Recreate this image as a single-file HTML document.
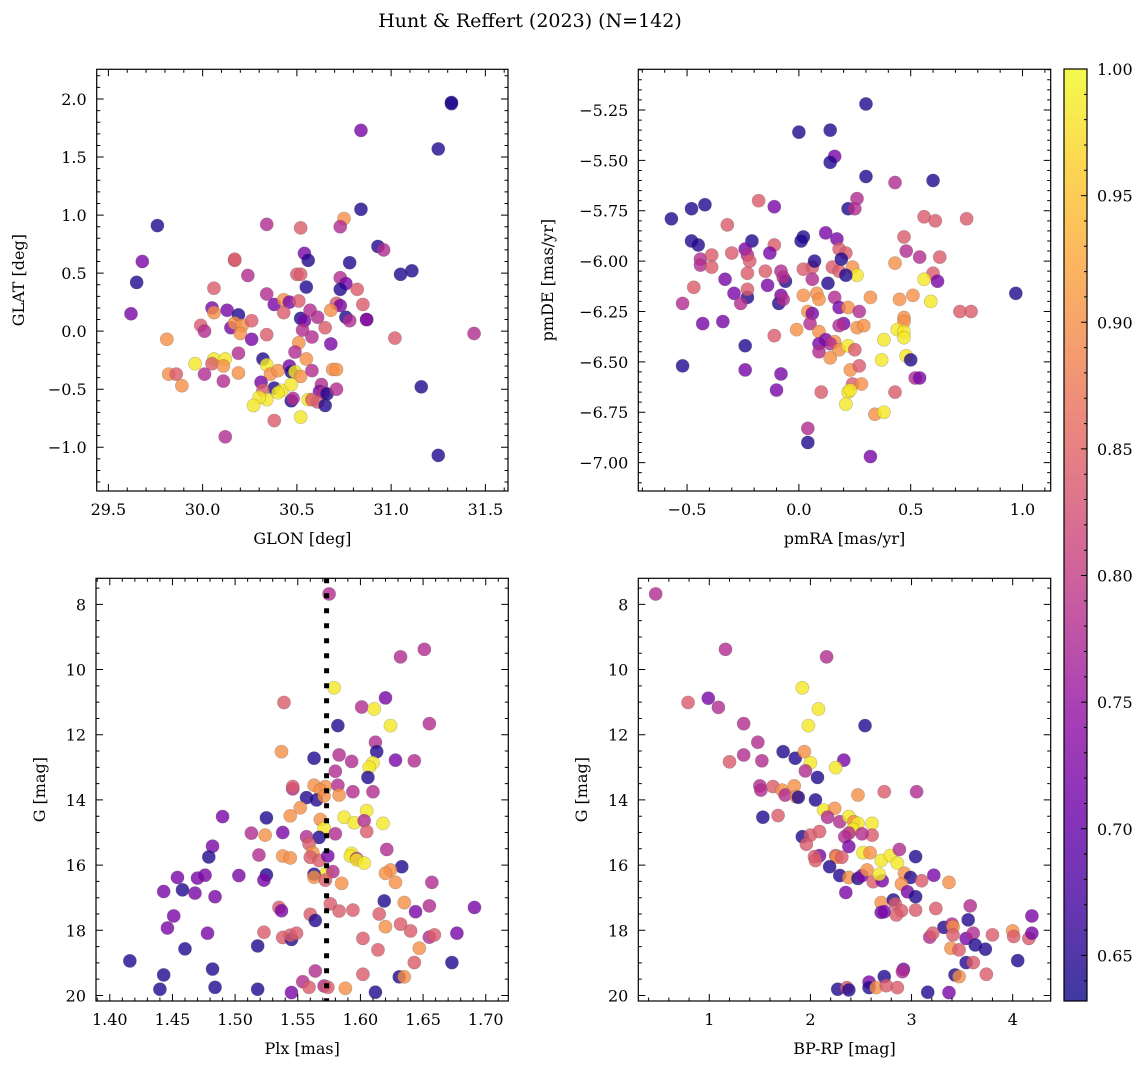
<!DOCTYPE html>
<html><head><meta charset="utf-8">
<style>
html,body{margin:0;padding:0;background:#fff;}
svg{display:block;font-family:"DejaVu Serif","Liberation Serif",serif;}
</style></head>
<body>
<svg id="fig" width="1148" height="1068" viewBox="0 0 1148 1068" xmlns="http://www.w3.org/2000/svg">
<rect x="0" y="0" width="1148" height="1068" fill="#fff"/>
<text x="530" y="27" font-size="19" text-anchor="middle">Hunt &amp; Reffert (2023) (N=142)</text>
</svg>
<script>
const B=0.645,P=0.72,M=0.78,K=0.84,O=0.90,Y=0.985;
// Panel 1: GLON vs GLAT
const glon=[31.32,31.32,30.84,31.25,30.84,29.76,30.34,30.52,30.75,30.73,29.68,29.65,29.62,30.93,30.96,30.78,31.05,31.11,30.54,30.56,30.17,30.17,30.24,30.50,30.52,30.55,30.73,30.76,30.73,30.82,30.85,30.71,30.73,30.76,30.78,30.87,30.87,31.02,31.44,31.16,31.25,30.12,30.38,30.52,30.06,30.05,30.06,30.13,30.19,30.15,30.17,30.21,30.20,30.26,30.26,29.99,30.01,29.81,30.19,30.34,30.38,30.43,30.46,30.51,30.43,30.34,30.52,30.54,30.57,30.61,30.53,30.58,30.65,30.68,30.68,30.51,30.49,30.55,30.32,30.34,29.96,30.06,30.12,30.05,30.11,29.82,29.86,29.89,30.01,30.11,30.19,30.36,30.40,30.46,30.47,30.49,30.52,30.58,30.69,30.71,30.31,30.38,30.32,30.42,30.47,30.40,30.34,30.30,30.27,30.47,30.48,30.56,30.63,30.62,30.64,30.61,30.65,30.66,30.71,30.58];
const glat=[1.96,1.97,1.73,1.57,1.05,0.91,0.92,0.89,0.97,0.90,0.60,0.42,0.15,0.73,0.70,0.59,0.49,0.52,0.67,0.61,0.61,0.62,0.48,0.49,0.49,0.38,0.46,0.41,0.36,0.36,0.23,0.24,0.22,0.12,0.09,0.10,0.10,-0.06,-0.02,-0.48,-1.07,-0.91,-0.77,-0.74,0.37,0.20,0.16,0.18,0.14,0.03,0.07,0.05,-0.02,0.09,-0.07,0.05,0.00,-0.07,-0.19,0.32,0.23,0.27,0.25,0.26,0.16,-0.03,0.11,0.09,0.18,0.12,0.01,-0.05,0.03,0.18,-0.11,-0.10,-0.18,-0.24,-0.24,-0.29,-0.28,-0.24,-0.24,-0.28,-0.30,-0.37,-0.37,-0.47,-0.37,-0.43,-0.36,-0.37,-0.34,-0.30,-0.35,-0.35,-0.39,-0.34,-0.33,-0.33,-0.44,-0.49,-0.51,-0.51,-0.46,-0.53,-0.59,-0.57,-0.64,-0.60,-0.58,-0.59,-0.46,-0.52,-0.53,-0.61,-0.64,-0.54,-0.50,-0.59];
const c1=[B,B,P,B,B,B,M,K,O,M,P,B,P,B,M,B,B,B,P,B,K,K,M,K,K,B,M,P,B,K,K,K,P,B,M,M,P,K,M,B,B,M,K,Y,K,P,O,P,B,P,O,O,O,K,P,K,M,O,M,M,P,O,P,K,K,K,B,P,M,M,M,M,K,O,P,O,M,O,B,Y,Y,Y,Y,K,O,O,K,O,M,M,O,O,O,P,B,Y,O,M,O,O,P,B,K,Y,Y,Y,Y,Y,Y,B,M,Y,M,P,M,K,B,B,M,K];
// Panel 2: pmRA vs pmDE
const pmra=[0.30,0.00,0.14,0.16,0.14,0.30,0.43,0.60,0.26,0.22,0.25,0.56,0.61,0.75,-0.57,-0.48,-0.42,-0.18,-0.11,-0.32,-0.48,-0.45,-0.21,-0.24,-0.23,-0.22,-0.11,-0.13,0.02,0.01,0.12,0.17,0.18,0.21,-0.44,-0.44,-0.39,-0.30,-0.39,-0.33,-0.23,-0.15,-0.08,-0.06,-0.07,-0.14,-0.29,-0.23,-0.23,-0.26,-0.47,-0.52,-0.43,-0.34,-0.08,-0.09,-0.07,-0.11,-0.24,-0.52,-0.24,-0.08,-0.10,0.02,0.06,0.07,0.06,0.13,0.15,0.18,0.19,0.24,0.26,0.21,0.02,0.08,0.09,0.16,0.04,0.06,0.05,-0.01,0.09,0.18,0.22,0.27,0.20,0.18,0.26,0.29,0.32,0.43,0.47,0.48,0.54,0.63,0.60,0.62,0.56,0.59,0.51,0.45,0.72,0.77,0.97,0.47,0.47,0.44,0.47,0.47,0.38,0.48,0.50,0.52,0.54,0.43,0.37,0.12,0.16,0.14,0.09,0.09,0.14,0.18,0.22,0.25,0.23,0.27,0.24,0.28,0.22,0.23,0.21,0.34,0.38,0.10,0.04,0.04,0.32];
const pmde=[-5.22,-5.36,-5.35,-5.48,-5.51,-5.58,-5.61,-5.60,-5.69,-5.74,-5.74,-5.78,-5.80,-5.79,-5.79,-5.74,-5.72,-5.70,-5.73,-5.82,-5.90,-5.92,-5.90,-5.94,-5.97,-6.00,-5.92,-5.96,-5.88,-5.90,-5.86,-5.89,-5.94,-5.96,-5.99,-6.02,-5.97,-5.96,-6.03,-6.09,-6.06,-6.05,-6.05,-6.10,-6.08,-6.12,-6.16,-6.18,-6.14,-6.21,-6.13,-6.21,-6.31,-6.30,-6.17,-6.21,-6.19,-6.37,-6.42,-6.52,-6.54,-6.56,-6.64,-6.04,-6.03,-6.00,-6.09,-6.11,-6.03,-6.05,-5.99,-6.03,-6.07,-6.07,-6.17,-6.16,-6.19,-6.18,-6.25,-6.26,-6.31,-6.34,-6.35,-6.23,-6.23,-6.25,-6.31,-6.32,-6.33,-6.32,-6.18,-6.01,-5.88,-5.95,-5.98,-5.98,-6.06,-6.10,-6.09,-6.20,-6.17,-6.19,-6.25,-6.25,-6.16,-6.28,-6.30,-6.34,-6.35,-6.38,-6.39,-6.47,-6.49,-6.58,-6.58,-6.65,-6.49,-6.39,-6.40,-6.41,-6.41,-6.45,-6.48,-6.44,-6.42,-6.44,-6.54,-6.52,-6.61,-6.61,-6.65,-6.64,-6.71,-6.76,-6.75,-6.65,-6.83,-6.90,-6.97];
const c2=[B,B,B,P,B,B,M,B,M,B,M,K,K,K,B,B,B,K,P,K,B,B,B,P,M,K,K,P,B,B,P,P,K,K,M,M,K,K,K,P,K,K,M,B,M,P,P,B,K,M,K,M,P,P,P,B,M,K,B,B,P,P,P,K,K,B,M,B,K,K,B,O,Y,B,O,O,O,M,O,P,M,O,O,P,O,M,P,M,O,O,O,O,K,M,M,K,K,P,Y,Y,O,O,K,K,B,O,O,Y,Y,Y,Y,Y,B,M,P,K,Y,P,O,M,P,M,O,O,Y,K,O,K,K,O,Y,Y,Y,O,Y,K,M,B,P];
// Panel 3: Plx vs G
const plx=[1.575,1.651,1.632,1.579,1.539,1.620,1.601,1.611,1.624,1.655,1.582,1.537,1.612,1.613,1.563,1.583,1.593,1.628,1.643,1.610,1.607,1.580,1.606,1.546,1.546,1.563,1.572,1.568,1.582,1.594,1.610,1.583,1.557,1.565,1.571,1.552,1.544,1.525,1.490,1.587,1.595,1.605,1.603,1.605,1.618,1.568,1.571,1.580,1.567,1.557,1.538,1.524,1.513,1.482,1.479,1.519,1.538,1.544,1.559,1.562,1.560,1.567,1.574,1.593,1.592,1.597,1.597,1.603,1.621,1.633,1.624,1.620,1.628,1.657,1.573,1.578,1.563,1.563,1.572,1.585,1.503,1.476,1.470,1.454,1.443,1.458,1.468,1.484,1.525,1.523,1.619,1.635,1.576,1.583,1.594,1.615,1.644,1.655,1.691,1.535,1.537,1.560,1.564,1.451,1.446,1.478,1.523,1.538,1.545,1.544,1.549,1.620,1.632,1.640,1.655,1.659,1.677,1.602,1.647,1.614,1.518,1.460,1.416,1.643,1.673,1.482,1.443,1.564,1.602,1.631,1.635,1.554,1.559,1.571,1.574,1.588,1.440,1.484,1.518,1.545,1.612];
const gmag3=[7.68,9.38,9.61,10.56,11.01,10.87,11.15,11.21,11.72,11.66,11.72,12.52,12.23,12.52,12.72,12.62,12.82,12.78,12.80,12.86,13.00,13.12,13.31,13.66,13.59,13.55,13.59,13.70,13.55,13.75,13.75,13.85,13.93,14.00,13.88,14.24,14.49,14.55,14.51,14.53,14.70,14.33,14.64,14.97,14.72,14.60,14.87,15.04,15.15,15.13,15.00,15.08,15.02,15.42,15.75,15.69,15.72,15.78,15.35,15.62,15.76,15.86,15.72,15.64,15.72,15.80,15.84,15.94,15.52,16.05,16.15,16.25,16.53,16.53,16.23,16.20,16.28,16.37,16.46,16.56,16.32,16.31,16.40,16.38,16.81,16.76,16.86,16.97,16.30,16.46,17.10,17.15,17.19,17.41,17.38,17.50,17.43,17.25,17.30,17.30,17.40,17.51,17.70,17.56,17.93,18.09,18.06,18.22,18.28,18.15,18.09,17.89,17.81,18.02,18.21,18.14,18.09,18.25,18.55,18.60,18.48,18.57,18.94,18.99,18.99,19.19,19.37,19.25,19.35,19.43,19.43,19.58,19.75,19.71,19.75,19.78,19.81,19.75,19.81,19.91,19.90];
const c3=[M,M,M,Y,K,P,M,Y,Y,M,B,O,M,B,B,M,M,P,M,Y,Y,M,B,M,K,O,O,O,M,M,M,O,B,B,O,O,O,B,P,Y,Y,Y,M,K,Y,O,Y,M,B,M,P,O,M,P,B,M,O,O,K,O,K,K,P,Y,Y,M,Y,Y,M,B,O,O,O,M,Y,M,B,O,K,O,P,P,P,P,P,B,P,P,B,P,B,O,K,K,K,K,P,M,P,K,P,K,B,P,P,P,K,K,B,K,K,O,K,K,M,K,P,K,O,K,B,B,B,K,B,B,B,M,K,B,O,M,K,M,K,O,B,B,B,P,B];
const refPlx=1.573;
// Panel 4: BP-RP vs G
const bprp=[0.47,1.16,2.16,1.92,0.79,0.99,1.09,2.08,1.98,2.54,1.34,1.48,1.34,1.20,1.52,1.73,1.85,1.94,2.00,1.95,2.07,2.33,2.25,1.50,1.51,1.63,1.72,1.75,1.84,1.86,1.88,2.05,2.47,2.73,3.05,1.53,1.68,2.13,2.24,2.17,2.29,2.38,2.43,2.47,2.42,2.61,2.61,2.51,2.34,2.38,1.92,2.00,2.09,1.96,2.38,2.09,2.04,2.05,2.25,2.26,2.31,2.19,2.29,2.38,2.47,2.51,2.52,2.59,2.56,2.62,2.71,2.68,2.70,2.79,2.86,2.88,2.93,2.99,2.90,2.96,3.04,3.04,3.10,3.22,3.37,2.35,2.70,2.82,2.84,2.90,2.85,2.70,2.73,3.04,3.24,3.58,3.56,3.32,3.40,3.41,3.41,3.18,3.21,3.54,3.61,3.63,3.73,3.80,4.00,4.01,4.16,4.19,4.19,3.39,3.47,3.54,3.61,4.05,3.74,3.43,3.47,2.92,2.91,2.73,2.58,2.58,2.65,2.75,2.86,2.27,2.36,2.38,3.16,3.37];
const gmag4=[7.68,9.38,9.61,10.56,11.01,10.88,11.16,11.21,11.72,11.72,11.66,12.23,12.62,12.83,12.80,12.52,12.72,12.52,12.86,13.11,13.31,12.78,13.01,13.57,13.70,13.59,13.70,13.85,13.57,13.90,13.92,14.00,13.85,13.75,13.75,14.53,14.48,14.31,14.26,14.53,14.67,14.51,14.67,14.72,14.90,14.72,15.08,15.04,15.13,15.02,15.13,15.08,14.97,15.36,15.43,15.71,15.74,15.86,15.71,15.76,15.76,16.05,16.32,16.38,16.41,16.32,15.62,15.62,16.15,16.51,16.48,16.28,15.86,15.71,15.94,15.52,16.25,16.38,16.58,16.82,15.74,16.97,16.48,16.31,16.53,16.84,17.15,17.07,17.19,17.40,17.53,17.45,17.43,17.38,17.33,17.25,17.68,17.91,17.81,17.89,18.14,18.21,18.09,18.25,18.09,18.45,18.58,18.14,18.02,18.19,18.25,18.09,17.56,18.55,18.60,18.99,18.99,18.93,19.35,19.37,19.42,19.20,19.27,19.42,19.59,19.76,19.76,19.70,19.76,19.81,19.76,19.83,19.90,19.91];
const c4=[M,M,M,Y,K,P,M,Y,Y,B,M,M,M,K,M,B,B,O,Y,M,B,P,Y,M,M,K,O,M,O,O,B,B,O,K,M,B,K,Y,O,M,M,Y,O,Y,Y,Y,K,M,M,M,B,K,K,K,P,P,K,K,K,O,K,B,B,O,B,P,Y,O,O,K,P,Y,Y,Y,Y,M,O,B,O,P,B,B,K,P,O,P,O,B,K,K,K,P,P,K,K,M,B,B,M,O,K,M,K,P,M,B,B,K,O,K,K,P,P,O,K,B,K,B,K,B,O,P,M,B,P,B,O,K,K,B,K,B,B,P];
// colorbar
const cbMin=0.632, cbMax=1.0;
const cbTicks=[0.65,0.70,0.75,0.80,0.85,0.90,0.95,1.00];

const NS="http://www.w3.org/2000/svg";
const svg=document.getElementById('fig');
function el(tag,attrs,parent){const e=document.createElementNS(NS,tag);for(const k in attrs)e.setAttribute(k,attrs[k]);(parent||svg).appendChild(e);return e;}
const plasmaStops=["#0d0887","#41049d","#6a00a8","#8f0da4","#b12a90","#cc4778","#e16462","#f2844b","#fca636","#fcce25","#f0f921"];
function hex(h){return [parseInt(h.substr(1,2),16),parseInt(h.substr(3,2),16),parseInt(h.substr(5,2),16)];}
function plasma(t){t=Math.max(0,Math.min(1,t));const f=t*10,i=Math.min(9,Math.floor(f)),u=f-i;const a=hex(plasmaStops[i]),b=hex(plasmaStops[i+1]);return "rgb("+a.map((v,j)=>Math.round(v+(b[j]-v)*u)).join(",")+")";}
function cmap(v){return plasma((v-cbMin)/(cbMax-cbMin));}
function fmt(v,d){const s=Math.abs(v).toFixed(d);return (v<-1e-9?"\u2212":"")+s;}
function range(a,b,s){const r=[];const n=Math.round((b-a)/s);for(let i=0;i<=n;i++)r.push(+(a+i*s).toFixed(6));return r;}

function panel(cfg){
  const g=el('g',{});
  
  
  const {x0,x1,y0,y1}=cfg.box;
  const sx=v=>x0+(v-cfg.xd[0])/(cfg.xd[1]-cfg.xd[0])*(x1-x0);
  const sy=v=>y1-(v-cfg.yd[0])/(cfg.yd[1]-cfg.yd[0])*(y1-y0);
  const pts=el('g',{},g);
  
  
  const n=Math.min(cfg.xs.length,cfg.ys.length,cfg.cs.length);
  for(let i=0;i<n;i++){
    const c=el('circle',{cx:sx(cfg.xs[i]).toFixed(2),cy:sy(cfg.ys[i]).toFixed(2),r:6.6,fill:cmap(cfg.cs[i]),'fill-opacity':0.8,stroke:'#555','stroke-opacity':0.35,'stroke-width':0.6},pts);
    
    
  }
  if(cfg.extra)cfg.extra(g,sx,sy);
  const fr=el('rect',{x:x0,y:y0,width:x1-x0,height:y1-y0,fill:'none',stroke:'#000','stroke-width':1.2},g);
  
  
  const tk=el('g',{stroke:'#000','stroke-width':1},g);
  
  
  let d="";
  const inX=v=>v>=Math.min(...cfg.xd)-1e-9&&v<=Math.max(...cfg.xd)+1e-9;
  const inY=v=>v>=Math.min(...cfg.yd)-1e-9&&v<=Math.max(...cfg.yd)+1e-9;
  cfg.xMinor.filter(inX).forEach(v=>{const x=sx(v);d+=`M${x} ${y1}v-3.5M${x} ${y0}v3.5`;});
  cfg.yMinor.filter(inY).forEach(v=>{const y=sy(v);d+=`M${x0} ${y}h3.5M${x1} ${y}h-3.5`;});
  cfg.xMajor.filter(inX).forEach(v=>{const x=sx(v);d+=`M${x} ${y1}v-7M${x} ${y0}v7`;});
  cfg.yMajor.filter(inY).forEach(v=>{const y=sy(v);d+=`M${x0} ${y}h7M${x1} ${y}h-7`;});
  el('path',{d:d},tk);
  const xl=el('g',{'font-size':16,'text-anchor':'middle'},g);
  
  
  cfg.xMajor.filter(inX).forEach(v=>{const t=el('text',{x:sx(v),y:y1+24},xl);t.textContent=fmt(v,cfg.xdec);});
  const yl=el('g',{'font-size':16,'text-anchor':'end'},g);
  
  
  cfg.yMajor.filter(inY).forEach(v=>{const t=el('text',{x:x0-10,y:sy(v)+6},yl);t.textContent=fmt(v,cfg.ydec);});
  const xt=el('text',{x:(x0+x1)/2,y:y1+53,'font-size':16,'text-anchor':'middle'},g);
  
  
  xt.textContent=cfg.xlabel;
  const yc=(y0+y1)/2;
  const yt=el('text',{x:cfg.ylx,y:yc,'font-size':16,'text-anchor':'middle',transform:`rotate(-90 ${cfg.ylx} ${yc})`},g);
  
  
  yt.textContent=cfg.ylabel;
}

panel({name:'glon-glat-panel',box:{x0:96.7,x1:508,y0:69.3,y1:491},xd:[29.438,31.62],yd:[-1.377,2.256],
  xs:glon,ys:glat,cs:c1,xMajor:range(29.5,31.5,0.5),xMinor:range(29.4,31.7,0.1),yMajor:range(-1,2,0.5),yMinor:range(-1.3,2.2,0.1),
  xdec:1,ydec:1,xlabel:'GLON [deg]',ylabel:'GLAT [deg]',ylx:24});
panel({name:'pm-panel',box:{x0:638.3,x1:1050.7,y0:69.3,y1:491},xd:[-0.718,1.126],yd:[-7.141,-5.048],
  xs:pmra,ys:pmde,cs:c2,xMajor:range(-0.5,1.0,0.5),xMinor:range(-0.7,1.1,0.1),yMajor:range(-7.0,-5.25,0.25),yMinor:range(-7.1,-5.05,0.05),
  xdec:1,ydec:2,xlabel:'pmRA [mas/yr]',ylabel:'pmDE [mas/yr]',ylx:553});
panel({name:'plx-g-panel',box:{x0:96,x1:508.3,y0:578.3,y1:1001},xd:[1.389,1.718],yd:[20.17,7.20],
  xs:plx,ys:gmag3,cs:c3,xMajor:range(1.40,1.70,0.05),xMinor:range(1.39,1.71,0.01),yMajor:range(8,20,2),yMinor:range(7.5,20,0.5),
  xdec:2,ydec:0,xlabel:'Plx [mas]',ylabel:'G [mag]',ylx:45,
  extra:(g,sx,sy)=>{const l=el('line',{x1:sx(refPlx),x2:sx(refPlx),y1:sy(7.20),y2:sy(20.17),stroke:'#000','stroke-width':5,'stroke-dasharray':'5 10'},g);
    
    }});
panel({name:'cmd-panel',box:{x0:638.3,x1:1050.7,y0:578.3,y1:1001},xd:[0.298,4.376],yd:[20.17,7.20],
  xs:bprp,ys:gmag4,cs:c4,xMajor:range(1,4,1),xMinor:range(0.4,4.2,0.2),yMajor:range(8,20,2),yMinor:range(7.5,20,0.5),
  xdec:0,ydec:0,xlabel:'BP-RP [mag]',ylabel:'G [mag]',ylx:587});

// colorbar
(function(){
  const x0=1064,x1=1087,y0=69,y1=1001;
  const g=el('g',{});
  
  
  const defs=el('defs',{},g);
  const lg=el('linearGradient',{id:'cbg',x1:0,y1:1,x2:0,y2:0},defs);
  for(let i=0;i<=20;i++){el('stop',{offset:(i/20),'stop-color':plasma(i/20)},lg);}
  el('rect',{x:x0,y:y0,width:x1-x0,height:y1-y0,fill:'url(#cbg)','fill-opacity':0.8},g);
  el('rect',{x:x0,y:y0,width:x1-x0,height:y1-y0,fill:'none',stroke:'#000','stroke-width':1.2},g);
  const sy=v=>y1-(v-cbMin)/(cbMax-cbMin)*(y1-y0);
  let d="";
  range(0.64,1.0,0.01).forEach(v=>{d+=`M${x1} ${sy(v)}h-3`;});
  cbTicks.forEach(v=>{d+=`M${x1} ${sy(v)}h-6`;});
  el('path',{d:d,stroke:'#000','stroke-width':1},g);
  const tl=el('g',{'font-size':16},g);
  
  
  cbTicks.forEach(v=>{const t=el('text',{x:x1+10,y:sy(v)+6},tl);t.textContent=v.toFixed(2);});
})();
</script>
</body></html>
